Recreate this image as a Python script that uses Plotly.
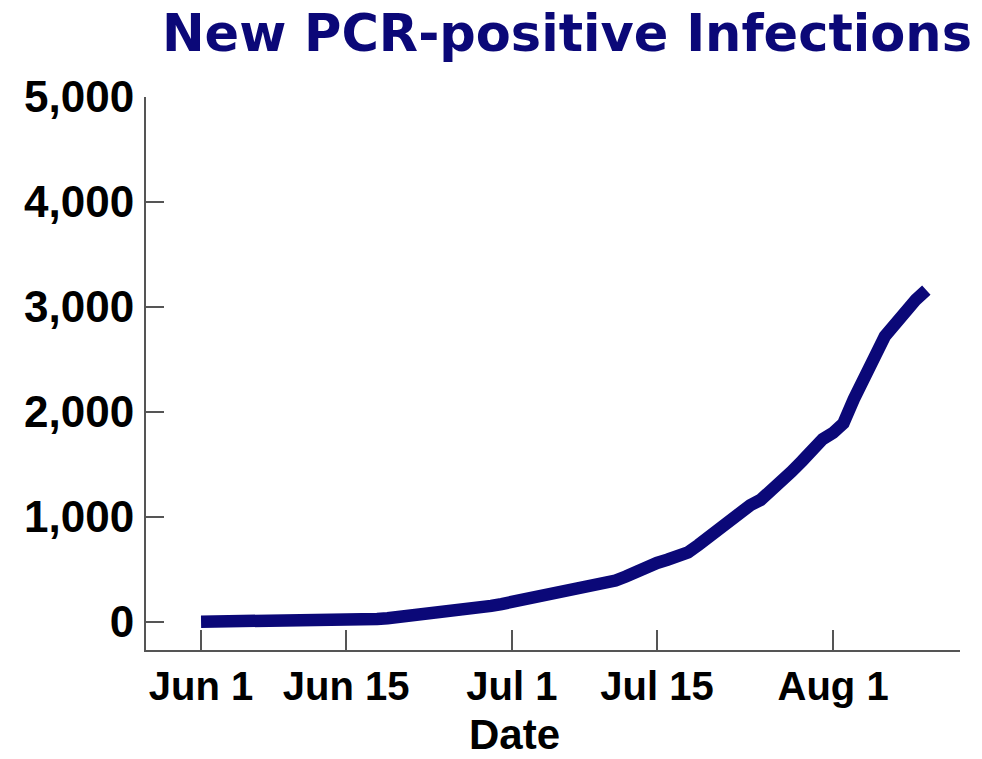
import plotly.graph_objects as go
import pandas as pd

# Daily new PCR-positive infections, Jun 1 .. Aug 10
dates = pd.date_range("2020-06-01", "2020-08-10", freq="D").strftime("%Y-%m-%d").tolist()
values = [
    0, 0, 0, 0, 0, 0, 0, 0, 0, 0, 0, 0, 0, 0, 0,           # Jun 1 - Jun 15
    8, 16, 25, 33, 42, 52, 62, 72, 82, 92, 108, 120, 135, 150, 168,  # Jun 16 - Jun 30
    188, 208, 222, 232, 252, 275, 298, 322, 345, 368, 392, 430, 480, 525, 560,  # Jul 1 - Jul 15
    590, 620, 660, 730, 810, 890, 965, 1040, 1110, 1160, 1240, 1330, 1430, 1530, 1650, 1740,  # Jul 16 - Jul 31
    1800, 1890, 2120, 2350, 2520, 2720, 2850, 2970, 3070, 3160,  # Aug 1 - Aug 10
]

x_tick_vals = ["2020-06-01", "2020-06-15", "2020-07-01", "2020-07-15", "2020-08-01"]
x_tick_text = ["Jun 1", "Jun 15", "Jul 1", "Jul 15", "Aug 1"]
y_tick_vals = [0, 1000, 2000, 3000, 4000, 5000]
y_tick_text = ["0", "1,000", "2,000", "3,000", "4,000", "5,000"]

title_text = "New PCR-positive Infections"
x_title = "Date"

NAVY = "#0b0878"
AXIS = "#555555"
FONT = "Liberation Sans, Arial, sans-serif"

W, H = 982, 759
L, T, R, B = 138, 89, 30, 117   # page is shown with an 8px body offset

fig = go.Figure()
fig.add_trace(go.Scatter(
    x=dates, y=values, mode="lines",
    line=dict(color=NAVY, width=12.5),
    showlegend=False, hoverinfo="skip",
))

fig.update_layout(
    width=W, height=H,
    paper_bgcolor="white", plot_bgcolor="white",
    margin=dict(l=L, r=R, t=T, b=B, autoexpand=False),
    title=dict(
        text=title_text, x=964 / W, xanchor="right", xref="container",
        y=1 - 7 / H, yanchor="top", yref="container",
        font=dict(family="DejaVu Sans", size=51, color=NAVY, weight="bold"),
    ),
    xaxis=dict(
        type="date",
        range=["2020-05-26 16:30", "2020-08-13 06:00"],
        tickvals=x_tick_vals, ticktext=x_tick_text,
        ticks="inside", ticklen=20, tickwidth=2, tickcolor=AXIS,
        showline=True, linecolor=AXIS, linewidth=2,
        showgrid=False, zeroline=False, automargin=False,
        tickfont=dict(family=FONT, size=40, color="black", weight="bold"),
        ticklabelstandoff=0,
    ),
    yaxis=dict(
        range=[-270, 5000],
        tickvals=y_tick_vals, ticktext=y_tick_text,
        ticks="inside", ticklen=18, tickwidth=2, tickcolor=AXIS,
        showline=True, linecolor=AXIS, linewidth=2,
        showgrid=False, zeroline=False, automargin=False,
        tickfont=dict(family=FONT, size=44, color="black", weight="bold"),
        ticklabelstandoff=1,
    ),
    annotations=[dict(
        text=x_title, xref="paper", yref="paper",
        x=(506 - L) / (W - L - R), y=(642 - 726) / (H - T - B),
        xanchor="center", yanchor="middle",
        showarrow=False,
        font=dict(family=FONT, size=42, color="black", weight="bold"),
    )],
)

fig.write_html("out.html")
